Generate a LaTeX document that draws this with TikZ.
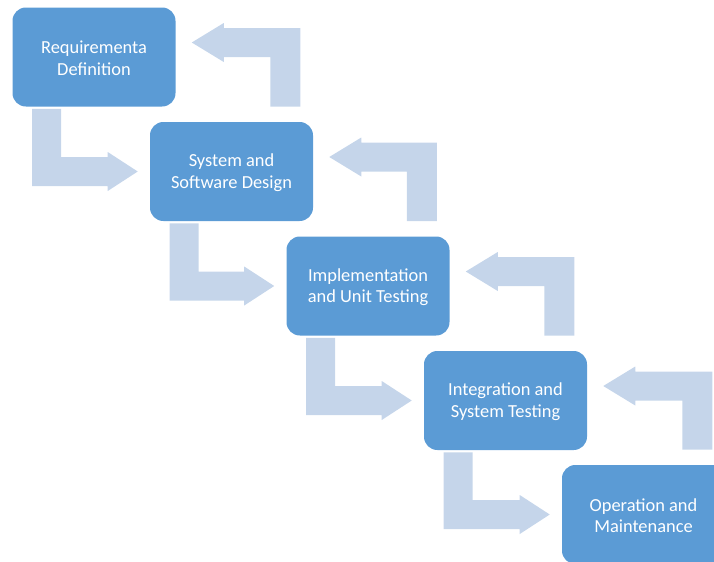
\documentclass[tikz,border=0pt]{standalone}
\usepackage{fontspec}
\setmainfont{Carlito}
\usepackage{tikz}
\usetikzlibrary{calc}
\usepackage{xcolor}
\definecolor{stagefill}{HTML}{5B9BD5}
\definecolor{flowfill}{HTML}{C5D5EA}

\begin{document}
\begin{tikzpicture}[x=0.75pt,y=0.75pt,yscale=-1,xscale=1,
  stage/.style={fill=stagefill, draw=none, rounded corners=10pt,
    minimum width=122.25pt, minimum height=74.25pt, text=white,
    align=center, font=\fontsize{13.8}{16}\selectfont},
  flow/.style={fill=flowfill, draw=none}]
\useasboundingbox (0,0) rectangle (714,561);
\clip (0,0) rectangle (714,561);

% Stages
\node [stage] (req) at (94,57) {\strut Requirementa\\Definition};
\node [stage] (sys) at (231.5,171.5) {\strut System and\\Software Design};
\node [stage] (impl) at (368,286) {\strut Implementation\\and Unit Testing};
\node [stage] (integ) at (505.5,400.5) {\strut Integration and\\System Testing};
\node [stage] (oper) at (643.5,514.5) {\strut Operation and\\Maintenance};

% Down arrows
\fill [flow] ($(req.south west)+(20,2)$) coordinate (d1) -- ++(29,0) |- ($(sys.west)+(-42,-14.5)$) -- ++(0,-5) -- ($(sys.west)+(-12,0)$) -- ++(-30,19.5) -- ++(0,-5) -| (d1) -- cycle;
\fill [flow] ($(sys.south west)+(20,2)$) coordinate (d2) -- ++(29,0) |- ($(impl.west)+(-42,-14.5)$) -- ++(0,-5) -- ($(impl.west)+(-12,0)$) -- ++(-30,19.5) -- ++(0,-5) -| (d2) -- cycle;
\fill [flow] ($(impl.south west)+(20,2)$) coordinate (d3) -- ++(29,0) |- ($(integ.west)+(-42,-14.5)$) -- ++(0,-5) -- ($(integ.west)+(-12,0)$) -- ++(-30,19.5) -- ++(0,-5) -| (d3) -- cycle;
\fill [flow] ($(integ.south west)+(20,2)$) coordinate (d4) -- ++(29,0) |- ($(oper.west)+(-42,-14.5)$) -- ++(0,-5) -- ($(oper.west)+(-12,0)$) -- ++(-30,19.5) -- ++(0,-5) -| (d4) -- cycle;

% Feedback arrows
\fill [flow] ($(sys.north east)+(-13,-15)$) coordinate (u1) |- ($(req.east)+(48,-29)$) -- ++(0,-5) -- ($(req.east)+(16,-14.5)$) -- ++(32,19.5) -- ++(0,-5) -| ($(u1)+(-30,0)$) -- cycle;
\fill [flow] ($(impl.north east)+(-13,-15)$) coordinate (u2) |- ($(sys.east)+(48,-29)$) -- ++(0,-5) -- ($(sys.east)+(16,-14.5)$) -- ++(32,19.5) -- ++(0,-5) -| ($(u2)+(-30,0)$) -- cycle;
\fill [flow] ($(integ.north east)+(-13,-15)$) coordinate (u3) |- ($(impl.east)+(48,-29)$) -- ++(0,-5) -- ($(impl.east)+(16,-14.5)$) -- ++(32,19.5) -- ++(0,-5) -| ($(u3)+(-30,0)$) -- cycle;
\fill [flow] ($(oper.north east)+(-13,-15)$) coordinate (u4) |- ($(integ.east)+(48,-29)$) -- ++(0,-5) -- ($(integ.east)+(16,-14.5)$) -- ++(32,19.5) -- ++(0,-5) -| ($(u4)+(-30,0)$) -- cycle;

\end{tikzpicture}
\end{document}
